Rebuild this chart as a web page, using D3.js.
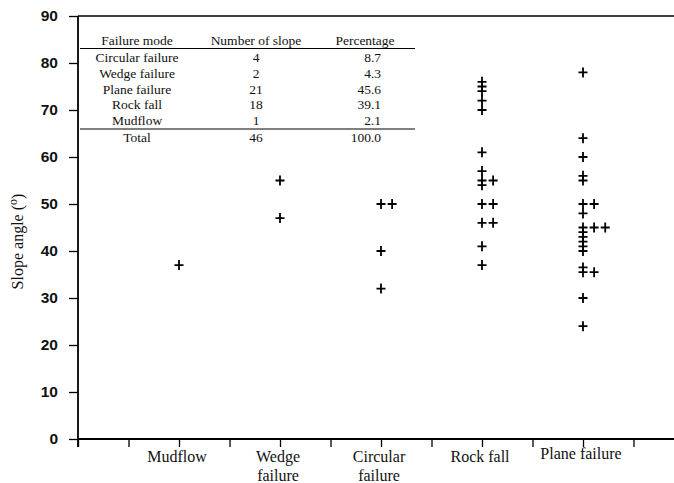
<!DOCTYPE html>
<html><head><meta charset="utf-8">
<script src="https://cdn.jsdelivr.net/npm/d3@7"></script>
<style>body{margin:0;background:#fff}</style>
</head><body>
<svg id="c" width="674" height="483"></svg>
<script>
// ---- data ----
const categories = ["Mudflow", "Wedge failure", "Circular failure", "Rock fall", "Plane failure"];
const categoryLabels = [["Mudflow"], ["Wedge", "failure"], ["Circular", "failure"], ["Rock fall"], ["Plane failure"]];
// slope angles per category; col = side-by-side column for coincident angles
const mudflowAngles = [37];
const mudflowCols = [0];
const wedgeAngles = [55, 47];
const wedgeCols = [0, 0];
const circularAngles = [50, 50, 40, 32];
const circularCols = [0, 1, 0, 0];
const rockFallAngles = [76, 75, 74, 72, 70, 61, 57, 55, 54, 50, 46, 41, 37, 55, 50, 46];
const rockFallCols = [0, 0, 0, 0, 0, 0, 0, 0, 0, 0, 0, 0, 0, 1, 1, 1];
const planeAngles = [78, 64, 60, 56, 55, 50, 48, 45, 44, 43, 42, 41, 40, 36.5, 35.5, 30, 24, 50, 45, 45, 35.5];
const planeCols = [0, 0, 0, 0, 0, 0, 0, 0, 0, 0, 0, 0, 0, 0, 0, 0, 0, 1, 1, 2, 1];
const yTicks = [0, 10, 20, 30, 40, 50, 60, 70, 80, 90];
const tableHeader = ["Failure mode", "Number of slope", "Percentage"];
const tableModes = ["Circular failure", "Wedge failure", "Plane failure", "Rock fall", "Mudflow"];
const tableCounts = ["4", "2", "21", "18", "1"];
const tablePercents = ["8.7", "4.3", "45.6", "39.1", "2.1"];
const tableTotal = ["Total", "46", "100.0"];

const series = [
  [mudflowAngles, mudflowCols], [wedgeAngles, wedgeCols], [circularAngles, circularCols],
  [rockFallAngles, rockFallCols], [planeAngles, planeCols]
];
const points = [];
series.forEach(([a, c], i) => a.forEach((v, j) => points.push({cat: i, v, col: c[j]})));

// ---- chart ----
const svg = d3.select("#c");
const x = d3.scaleLinear().domain([0, 6]).range([78, 684]);
const y = d3.scaleLinear().domain([0, 90]).range([439, 16]);
const colStep = 0.11;
const serif = "Liberation Serif, Times New Roman, serif";

// top border
svg.append("line").attr("x1", x(0)).attr("x2", 674).attr("y1", y(90)).attr("y2", y(90))
  .attr("stroke", "#000").attr("stroke-width", 1.6);

// y axis
const ya = svg.append("g").attr("transform", `translate(${x(0)},0)`)
  .call(d3.axisLeft(y).tickValues(yTicks).tickSize(9).tickPadding(11));
ya.select(".domain").remove();
ya.selectAll(".tick line").attr("stroke", "#000").attr("stroke-width", 1.3);
ya.selectAll(".tick text").attr("font-family", "Liberation Sans, Arial, sans-serif")
  .attr("font-weight", "bold").attr("font-size", 15.5).attr("fill", "#111");
svg.append("line").attr("x1", x(0)).attr("x2", x(0)).attr("y1", y(90)).attr("y2", y(0) + 8)
  .attr("stroke", "#000").attr("stroke-width", 1.8);

// x axis
const xTickVals = d3.range(0, 6, 0.5);
const xa = svg.append("g").attr("transform", `translate(0,${y(0)})`)
  .call(d3.axisBottom(x).tickValues(xTickVals).tickFormat("").tickSize(8));
xa.select(".domain").remove();
xa.selectAll(".tick line").attr("stroke", "#000").attr("stroke-width", 1.3);
svg.append("line").attr("x1", x(0)).attr("x2", 674).attr("y1", y(0)).attr("y2", y(0))
  .attr("stroke", "#000").attr("stroke-width", 1.8);

// category labels
categoryLabels.forEach((lines, i) => {
  const cx = x(i + 1) - 2;
  const t = svg.append("text").attr("x", cx).attr("y", i === 4 ? 459 : 462)
    .attr("text-anchor", "middle").attr("font-family", serif)
    .attr("font-size", 16).attr("fill", "#111");
  lines.forEach((l, k) => t.append("tspan").attr("x", cx).attr("dy", k === 0 ? 0 : 18.5).text(l));
});

// y title
svg.append("text").attr("transform", `translate(23,${y(45) + 14}) rotate(-90)`)
  .attr("text-anchor", "middle").attr("font-family", serif)
  .attr("font-size", 16).attr("fill", "#111")
  .html('Slope angle (<tspan dy="-6" font-size="12">o</tspan><tspan dy="6">)</tspan>');

// points
svg.append("g").selectAll("path").data(points).join("path")
  .attr("transform", d => `translate(${x(d.cat + 1 + d.col * colStep)},${y(d.v)})`)
  .attr("d", "M-4.5,0H4.5M0,-5V5")
  .attr("stroke", "#000").attr("stroke-width", 1.8).attr("fill", "none");

// table
const colX = [137, 256, 365];
const tg = svg.append("g").attr("font-family", serif).attr("font-size", 13.5).attr("fill", "#111");
tableHeader.forEach((h, k) => tg.append("text").attr("x", colX[k]).attr("y", 45).attr("text-anchor", "middle").text(h));
tg.append("line").attr("x1", 80).attr("x2", 415).attr("y1", 48.5).attr("y2", 48.5).attr("stroke", "#000").attr("stroke-width", 1);
tableModes.forEach((m, r) => {
  const yy = 62 + r * 15.8;
  tg.append("text").attr("x", colX[0]).attr("y", yy).attr("text-anchor", "middle").text(m);
  tg.append("text").attr("x", colX[1]).attr("y", yy).attr("text-anchor", "middle").text(tableCounts[r]);
  tg.append("text").attr("x", 381).attr("y", yy).attr("text-anchor", "end").text(tablePercents[r]);
});
tg.append("line").attr("x1", 80).attr("x2", 415).attr("y1", 129).attr("y2", 129).attr("stroke", "#000").attr("stroke-width", 1);
tg.append("text").attr("x", colX[0]).attr("y", 142).attr("text-anchor", "middle").text(tableTotal[0]);
tg.append("text").attr("x", colX[1]).attr("y", 142).attr("text-anchor", "middle").text(tableTotal[1]);
tg.append("text").attr("x", 381).attr("y", 142).attr("text-anchor", "end").text(tableTotal[2]);
</script>
</body></html>
